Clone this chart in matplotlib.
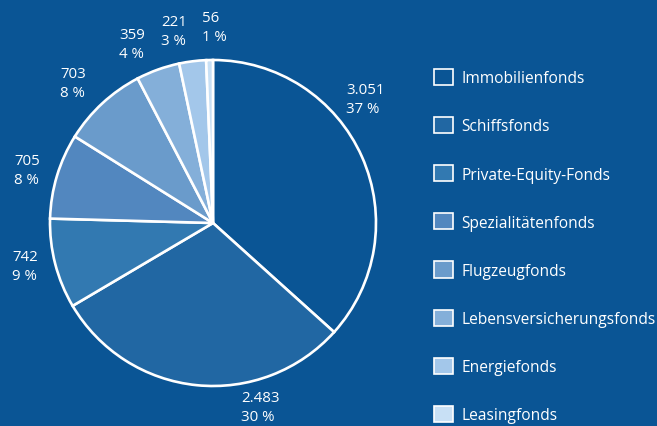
import matplotlib
matplotlib.use('Agg')
import matplotlib.pyplot as plt

plt.rcParams['font.family'] = ['Open Sans', 'DejaVu Sans']

# Data
categories = ['Immobilienfonds', 'Schiffsfonds', 'Private-Equity-Fonds',
              'Spezialitätenfonds', 'Flugzeugfonds', 'Lebensversicherungsfonds',
              'Energiefonds', 'Leasingfonds']
values = [3051, 2483, 742, 705, 703, 359, 221, 56]
percents = [37, 30, 9, 8, 8, 4, 3, 1]

colors = ['#0a5595', '#2167a3', '#3279b1', '#5287bf', '#6a9bcb',
          '#84afd9', '#a3c7ea', '#c8e0f5']
bg = '#0a5595'

# label positions (pixels, left edge / vertical centre of block)
label_px = [(346, 100), (241, 408), (12, 267), (14, 171),
            (60, 84), (119, 45), (161, 32), (202, 28)]

W, H = 657, 427
cx, cy, r = 213, 224, 163
fs = 10.8
lfs = 11.2

fig = plt.figure(figsize=(W / 100, H / 100), dpi=100, facecolor=bg)
ax = fig.add_axes([0, 0, 1, 1])
ax.set_facecolor(bg)

wedges, _ = ax.pie(values, colors=colors, startangle=90, counterclock=False,
                   radius=1, center=(0, 0), frame=True,
                   wedgeprops=dict(edgecolor='white', linewidth=1.9))
ax.set_xlim(-cx / r, (W - cx) / r)
ax.set_ylim(-(H - cy) / r, cy / r)
ax.set_aspect('auto')
ax.axis('off')

def fmt(v):
    return f'{v:,}'.replace(',', '.')

for v, p, (px, py) in zip(values, percents, label_px):
    ax.text((px - cx) / r, (cy - py) / r, f'{fmt(v)}\n{p} %',
            ha='left', va='center', color='white', fontsize=fs,
            linespacing=1.4)

leg = ax.legend(wedges, categories, loc='upper left',
                bbox_to_anchor=(434 / W, 1 - 70 / H), frameon=False,
                fontsize=lfs, labelcolor='white', handlelength=1.22,
                handleheight=1.22, handletextpad=0.55, labelspacing=1.98,
                borderaxespad=0, borderpad=0)
for h in leg.legend_handles:
    h.set_linewidth(1.2)

fig.savefig('out.png', dpi=100, facecolor=bg)
